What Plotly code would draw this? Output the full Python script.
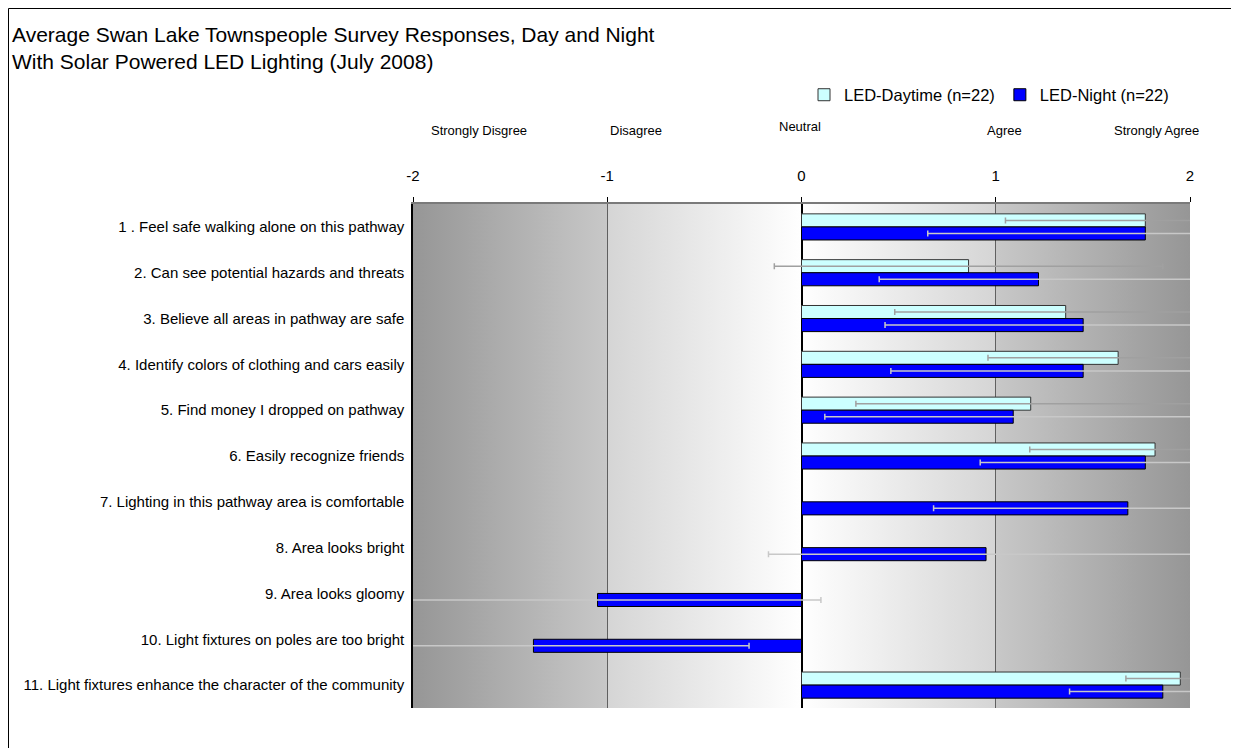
import base64
import plotly.graph_objects as go

categories = [
    "1 . Feel safe walking alone on this pathway",
    "2. Can see potential hazards and threats",
    "3. Believe all areas in pathway are safe",
    "4. Identify colors of clothing and cars easily",
    "5. Find money I dropped on pathway",
    "6. Easily recognize friends",
    "7. Lighting in this pathway area is comfortable",
    "8. Area looks bright",
    "9. Area looks gloomy",
    "10. Light fixtures on poles are too bright",
    "11. Light fixtures enhance the character of the community",
]
day_vals = [1.77, 0.86, 1.36, 1.63, 1.18, 1.82, None, None, None, None, 1.95]
day_err = [0.72, 1.00, 0.88, 0.67, 0.90, 0.645, None, None, None, None, 0.28]
night_vals = [1.77, 1.22, 1.45, 1.45, 1.09, 1.77, 1.68, 0.95, -1.05, -1.38, 1.86]
night_err = [1.12, 0.82, 1.02, 0.99, 0.97, 0.85, 1.00, 1.12, 1.15, 1.11, 0.48]

scale_vals = [-2, -1, 0, 1, 2]
scale_labels = ["Strongly Disgree", "Disagree", "Neutral", "Agree", "Strongly Agree"]

FONT = "Liberation Sans, Arial, sans-serif"

# figure geometry (page body has an 8px margin)
W, H = 1231, 740
L, R, T, B = 405, 49, 196, 40
PW, PH = W - L - R, H - T - B


def px_x(px):
    return (px - L) / PW


def px_y(py):
    return (H - B - py) / PH


fig = go.Figure()
fig.add_trace(go.Bar(
    y=categories, x=day_vals, orientation="h", name="LED-Daytime (n=22)",
    marker=dict(color="#CCFFFF", line=dict(color="#333333", width=1)),
    error_x=dict(type="data", array=day_err, color="#a0a0a0", thickness=1.5, width=3),
))
fig.add_trace(go.Bar(
    y=categories, x=night_vals, orientation="h", name="LED-Night (n=22)",
    marker=dict(color="#0000FF", line=dict(color="#000000", width=1)),
    error_x=dict(type="data", array=night_err, color="#c8c8c8", thickness=1.5, width=3),
))

# smooth gradient background as an SVG image
svg = (
    '<svg xmlns="http://www.w3.org/2000/svg" width="400" height="100" viewBox="0 0 400 100" '
    'preserveAspectRatio="none"><defs><linearGradient id="g" x1="0" y1="0" x2="1" y2="0">'
    '<stop offset="0" stop-color="#969696"/><stop offset="0.25" stop-color="#c8c8c8"/>'
    '<stop offset="0.25" stop-color="#d5d5d5"/><stop offset="0.5" stop-color="#ffffff"/>'
    '<stop offset="0.75" stop-color="#d5d5d5"/><stop offset="0.75" stop-color="#c8c8c8"/>'
    '<stop offset="1" stop-color="#969696"/></linearGradient></defs>'
    '<rect x="0" y="0" width="400" height="100" fill="url(#g)"/></svg>'
)
src = "data:image/svg+xml;base64," + base64.b64encode(svg.encode()).decode()
images = [dict(source=src, xref="x", yref="paper", x=-2, y=1, sizex=4, sizey=1,
               sizing="stretch", xanchor="left", yanchor="top", layer="below")]

shapes = [
    dict(type="line", xref="paper", yref="paper", x0=px_x(0.5), x1=px_x(W + 5),
         y0=px_y(0.5), y1=px_y(0.5), line=dict(color="black", width=1)),
    dict(type="line", xref="paper", yref="paper", x0=px_x(0.5), x1=px_x(0.5),
         y0=px_y(0.5), y1=px_y(H + 5), line=dict(color="black", width=1)),
]

label_shift = [66, 29, -2, 9, -34]
annotations = []
for v, lab, sh in zip(scale_vals, scale_labels, label_shift):
    annotations.append(dict(x=v, xref="x", y=px_y(122 if lab != "Neutral" else 118),
                            yref="paper", text=lab, showarrow=False, xshift=sh,
                            font=dict(family=FONT, size=13, color="black"),
                            xanchor="center", yanchor="middle"))
annotations.append(dict(
    x=px_x(2), xref="paper", y=px_y(13), yref="paper", xanchor="left", yanchor="top",
    align="left", showarrow=False,
    text="Average Swan Lake Townspeople Survey Responses, Day and Night<br>With Solar Powered LED Lighting (July 2008)",
    font=dict(family=FONT, size=21, color="black")))

fig.update_layout(
    width=W, height=H,
    margin=dict(l=L, r=R, t=T, b=B),
    paper_bgcolor="white", plot_bgcolor="white",
    barmode="group", bargap=0.43, bargroupgap=0,
    shapes=shapes, annotations=annotations, images=images,
    legend=dict(orientation="h", x=px_x(796), xanchor="left", y=px_y(87), yanchor="middle",
                font=dict(family=FONT, size=16.5, color="black"), bgcolor="rgba(0,0,0,0)",
                traceorder="normal"),
    font=dict(family=FONT, color="black"),
)
fig.update_xaxes(
    range=[-2, 2], side="top", tickvals=scale_vals, ticktext=[str(v) for v in scale_vals],
    tickfont=dict(family=FONT, size=15, color="black"),
    showgrid=True, gridcolor="#606060", gridwidth=1,
    zeroline=True, zerolinecolor="black", zerolinewidth=1.5,
    showline=True, linecolor="#7a7a7a", linewidth=2, mirror=False,
    ticks="outside", ticklen=5, tickcolor="black", ticklabelstandoff=10,
    fixedrange=True,
)
fig.update_yaxes(
    autorange="reversed", showline=True, linecolor="black", linewidth=1.5,
    tickfont=dict(family=FONT, size=15, color="black"), ticks="", ticklabelstandoff=4,
    showgrid=False, fixedrange=True,
)

fig.write_html("out.html")
